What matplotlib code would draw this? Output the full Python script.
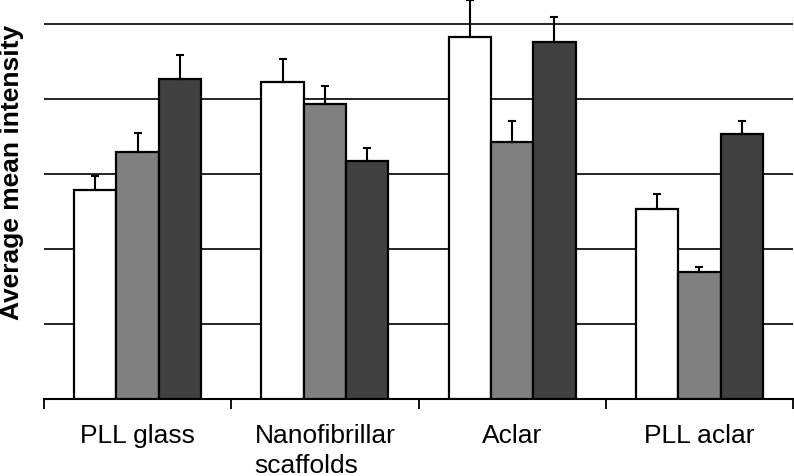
"""Average mean intensity per substrate, three conditions per group."""

import matplotlib

matplotlib.use("Agg")
import matplotlib.pyplot as plt  # noqa: E402
import numpy as np  # noqa: E402

plt.rcParams["font.family"] = ["Liberation Sans", "DejaVu Sans"]

CATEGORIES = ["PLL glass", "Nanofibrillar\nscaffolds", "Aclar", "PLL aclar"]
SERIES_A = [2.79, 4.23, 4.83, 2.54]   # white
SERIES_B = [3.29, 3.93, 3.43, 1.70]   # grey
SERIES_C = [4.27, 3.17, 4.76, 3.53]   # dark
ERR_A = [0.19, 0.30, 0.49, 0.19]
ERR_B = [0.26, 0.24, 0.28, 0.06]
ERR_C = [0.32, 0.18, 0.34, 0.18]
GRID_LEVELS = [1, 2, 3, 4, 5]

COLORS = ["#ffffff", "#808080", "#404040"]

fig = plt.figure(figsize=(7.94, 4.77), dpi=100)
ax = fig.add_axes([44 / 794, 77 / 477, 749 / 794, 400 / 477])

x = np.arange(len(CATEGORIES))
w = 0.226
for off, vals, errs, col in zip(
    (-w, 0.0, w), (SERIES_A, SERIES_B, SERIES_C), (ERR_A, ERR_B, ERR_C), COLORS
):
    ax.bar(x + off, vals, width=w, color=col, edgecolor="black",
           linewidth=1.6, zorder=3)
    ax.errorbar(x + off, vals, yerr=[np.zeros(len(errs)), errs], fmt="none",
                ecolor="black", elinewidth=1.5, capsize=3, capthick=1.5,
                zorder=4)

for lvl in GRID_LEVELS:
    ax.axhline(lvl, color="black", linewidth=1.2, zorder=1)

ax.set_xlim(-0.5, len(CATEGORIES) - 0.5)
ax.set_ylim(0, 400 / 75)

ax.set_xticks(x)
ax.set_xticklabels(CATEGORIES, fontsize=19, multialignment="left",
                   linespacing=1.35)
ax.set_xticks(np.arange(len(CATEGORIES) + 1) - 0.5, minor=True)
ax.tick_params(axis="x", which="major", length=0, pad=17)
ax.tick_params(axis="x", which="minor", length=7, width=1.3, direction="out")
ax.set_yticks([])

for side in ("left", "right", "top"):
    ax.spines[side].set_visible(False)
ax.spines["bottom"].set_linewidth(1.5)

ax.set_ylabel("Average mean intensity", fontsize=19, fontweight="bold",
              labelpad=0)
ax.yaxis.set_label_coords(-20 / 749, 0.57)

fig.savefig("out.png", dpi=100)
